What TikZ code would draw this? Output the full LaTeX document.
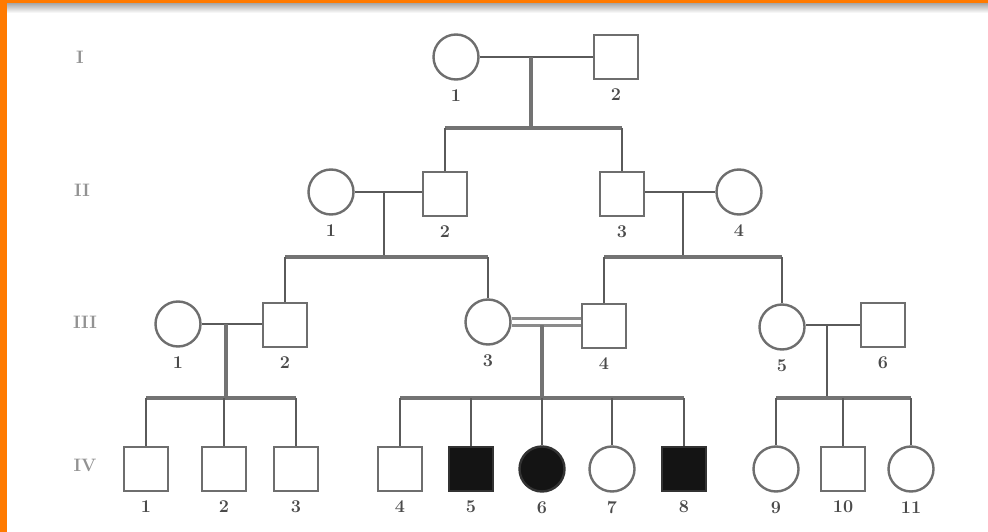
\documentclass[tikz,border=0pt]{standalone}
\usetikzlibrary{positioning}
\definecolor{frame}{HTML}{FF7A00}
\definecolor{ln}{HTML}{5A5A5A}
\definecolor{sym}{HTML}{6E6E6E}
\definecolor{txt}{HTML}{4A4A4A}
\tikzset{
  x=1pt, y=-1pt,
  fem/.style={circle, draw=sym, line width=2.4pt, minimum size=45pt, inner sep=0pt, fill=white},
  mal/.style={rectangle, draw=sym, line width=2.4pt, minimum size=44pt, inner sep=0pt, fill=white},
  aff/.style={fill=black!92, draw=black!80},
  lbl/.style={font=\fontsize{18}{18}\selectfont\bfseries, text=txt, label distance=5pt},
  gen/.style={font=\fontsize{18}{18}\selectfont\bfseries, text=txt!60},
  mate/.style={draw=ln, line width=2.2pt},
  sib/.style={draw=ln!85, line width=4pt},
  drop/.style={draw=ln, line width=2.8pt},
}
\begin{document}
\begin{tikzpicture}
\useasboundingbox (0,0) rectangle (988,532);
\fill[white] (0,0) rectangle (988,532);
% frame
\shade[top color=black!35, bottom color=white] (6,3) rectangle (988,13);
\fill[frame] (0,0) rectangle (988,3.5);
\fill[frame] (0,0) rectangle (6.5,532);

% generation labels
\node[gen] (gI) at (80,57) {I};
\node[gen] (gII) at (82,190) {II};
\node[gen] (gIII) at (85,322) {III};
\node[gen] (gIV) at (85,465) {IV};

% coordinates for lines
\coordinate (m1) at (531,57);
\coordinate (k1) at (531,128);
\coordinate (sIa) at (445,128);
\coordinate (sIb) at (622,128);

\coordinate (m21) at (384,192);
\coordinate (k21) at (384,257);
\coordinate (s21a) at (285,257);
\coordinate (s21b) at (488,257);
\coordinate (m22) at (683,192);
\coordinate (k22) at (683,257);
\coordinate (s22a) at (604,257);
\coordinate (s22b) at (782,257);

\coordinate (m31) at (226,324);
\coordinate (k31) at (226,398);
\coordinate (s31a) at (146,398);
\coordinate (s31b) at (296,398);
\coordinate (m32) at (542,325);
\coordinate (k32) at (542,398);
\coordinate (s32a) at (400,398);
\coordinate (s32b) at (684,398);
\coordinate (m33) at (827,324);
\coordinate (k33) at (827,398);
\coordinate (s33a) at (776,398);
\coordinate (s33b) at (911,398);

% Generation I
\node[fem, label={[lbl]below:1}] (I1) at (456,57) {};
\node[mal, label={[lbl]below:2}] (I2) at (616,57) {};
% Generation II
\node[fem, label={[lbl]below:1}] (II1) at (331,192) {};
\node[mal, label={[lbl]below:2}] (II2) at (445,194) {};
\node[mal, label={[lbl]below:3}] (II3) at (622,194) {};
\node[fem, label={[lbl]below:4}] (II4) at (739,192) {};
% Generation III
\node[fem, label={[lbl]below:1}] (III1) at (178,324) {};
\node[mal, label={[lbl]below:2}] (III2) at (285,325) {};
\node[fem, label={[lbl]below:3}] (III3) at (488,322) {};
\node[mal, label={[lbl]below:4}] (III4) at (604,326) {};
\node[fem, label={[lbl]below:5}] (III5) at (782,327) {};
\node[mal, label={[lbl]below:6}] (III6) at (883,325) {};
% Generation IV
\node[mal, label={[lbl]below:1}] (IV1) at (146,469) {};
\node[mal, label={[lbl]below:2}] (IV2) at (224,469) {};
\node[mal, label={[lbl]below:3}] (IV3) at (296,469) {};
\node[mal, label={[lbl]below:4}] (IV4) at (400,469) {};
\node[mal, aff, label={[lbl]below:5}] (IV5) at (471,469) {};
\node[fem, aff, label={[lbl]below:6}] (IV6) at (542,469) {};
\node[fem, label={[lbl]below:7}] (IV7) at (612,469) {};
\node[mal, aff, label={[lbl]below:8}] (IV8) at (684,469) {};
\node[fem, label={[lbl]below:9}] (IV9) at (776,469) {};
\node[mal, label={[lbl]below:10}] (IV10) at (843,469) {};
\node[fem, label={[lbl]below:11}] (IV11) at (911,469) {};

% Generation I lines
\draw[mate] (I1.east) -- (I2.west);
\draw[sib] (m1) -- (k1);
\draw[sib] (sIa) -- (sIb);
\draw[drop] (sIa) -- (II2.north);
\draw[drop] (sIb) -- (II3.north);

% Generation II lines
\draw[mate] (II1.east) -- (II2.west |- II1.east);
\draw[drop] (m21) -- (k21);
\draw[sib] (s21a) -- (s21b);
\draw[drop] (s21a) -- (III2.north);
\draw[drop] (s21b) -- (III3.north);
\draw[mate] (II3.east |- II4.west) -- (II4.west);
\draw[drop] (m22) -- (k22);
\draw[sib] (s22a) -- (s22b);
\draw[drop] (s22a) -- (III4.north);
\draw[drop] (s22b) -- (III5.north);

% Generation III lines
\draw[mate] (III1.east) -- (III2.west |- III1.east);
\draw[sib] (m31) -- (k31);
\draw[sib] (s31a) -- (s31b);
\draw[drop] (s31a) -- (IV1.north);
\draw[drop] (IV2.north |- k31) -- (IV2.north);
\draw[drop] (s31b) -- (IV3.north);

\draw[draw=ln!70, line width=3.6pt] ([yshift=-3.5pt]III3.east) -- ([yshift=-3.5pt]III3.east -| III4.west);
\draw[draw=ln!70, line width=3.6pt] ([yshift=3.5pt]III3.east) -- ([yshift=3.5pt]III3.east -| III4.west);
\draw[sib] (m32) -- (k32);
\draw[sib] (s32a) -- (s32b);
\draw[drop] (s32a) -- (IV4.north);
\draw[drop] (IV5.north |- s32a) -- (IV5.north);
\draw[drop] (k32) -- (IV6.north);
\draw[drop] (IV7.north |- s32a) -- (IV7.north);
\draw[drop] (s32b) -- (IV8.north);

\draw[mate] (III5.east |- III6.west) -- (III6.west);
\draw[drop] (m33) -- (k33);
\draw[sib] (s33a) -- (s33b);
\draw[drop] (s33a) -- (IV9.north);
\draw[drop] (IV10.north |- s33a) -- (IV10.north);
\draw[drop] (s33b) -- (IV11.north);
\end{tikzpicture}
\end{document}
